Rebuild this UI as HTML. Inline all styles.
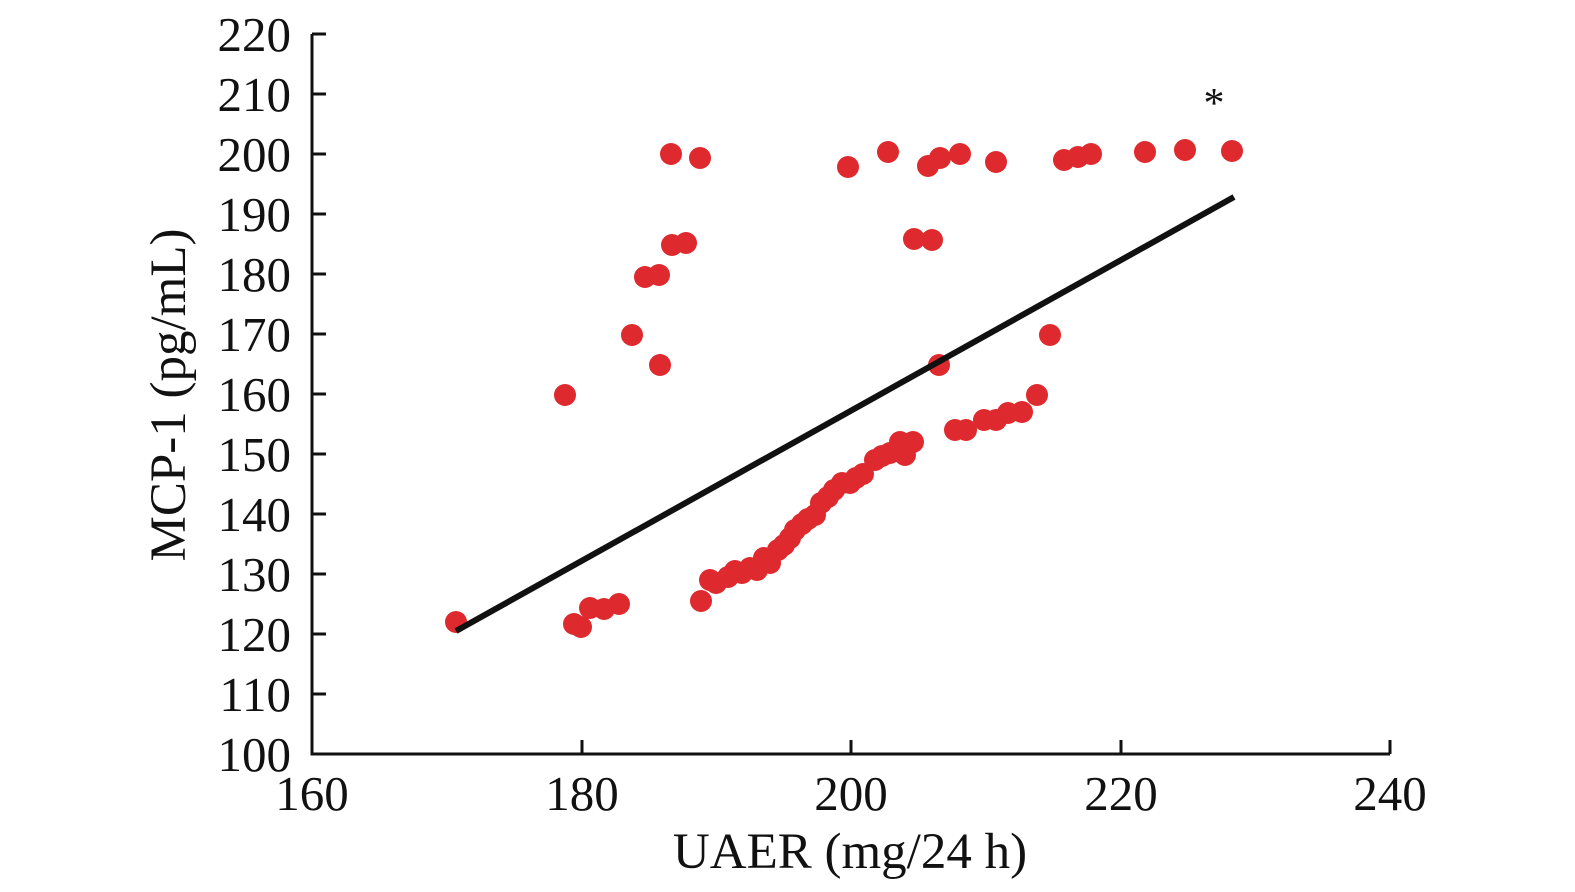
<!DOCTYPE html>
<html><head><style>body{margin:0;background:#fff}svg{display:block}</style></head><body>
<svg width="1575" height="892" xmlns="http://www.w3.org/2000/svg" font-family="Liberation Serif, serif" fill="#111">
<g stroke="#111" stroke-width="3" fill="none">
<path d="M312,34 V754 H1390"/>
<path d="M312,34h14M312,94h14M312,154h14M312,214h14M312,274h14M312,334h14M312,394h14M312,454h14M312,514h14M312,574h14M312,634h14M312,694h14"/>
<path d="M582,754v-14M851,754v-14M1121,754v-14M1390,754v-14"/>
</g>
<g font-size="49" text-anchor="end">
<text x="291" y="51">220</text><text x="291" y="111">210</text><text x="291" y="171">200</text><text x="291" y="231">190</text><text x="291" y="291">180</text><text x="291" y="351">170</text><text x="291" y="411">160</text><text x="291" y="471">150</text><text x="291" y="531">140</text><text x="291" y="591">130</text><text x="291" y="651">120</text><text x="291" y="711">110</text><text x="291" y="771">100</text>
</g>
<g font-size="49" text-anchor="middle">
<text x="312" y="810">160</text><text x="582" y="810">180</text><text x="851" y="810">200</text><text x="1121" y="810">220</text><text x="1390" y="810">240</text>
<text x="850" y="868" font-size="51">UAER (mg/24 h)</text>
<text transform="translate(185,395) rotate(-90)" font-size="51">MCP-1 (pg/mL)</text>
<text x="1214" y="117" font-size="42">*</text>
</g>
<g fill="#de2a2e">
<circle cx="456" cy="622" r="11"/><circle cx="565" cy="395" r="11"/><circle cx="574" cy="624" r="11"/><circle cx="581" cy="627" r="11"/><circle cx="590" cy="608" r="11"/><circle cx="604" cy="609" r="11"/><circle cx="619" cy="604" r="11"/><circle cx="632" cy="335" r="11"/><circle cx="645" cy="277" r="11"/><circle cx="659" cy="275" r="11"/><circle cx="660" cy="365" r="11"/><circle cx="671" cy="154" r="11"/><circle cx="672" cy="245" r="11"/><circle cx="686" cy="243" r="11"/><circle cx="700" cy="158" r="11"/><circle cx="701" cy="601" r="11"/><circle cx="710" cy="580" r="11"/><circle cx="716" cy="583" r="11"/><circle cx="728" cy="577" r="11"/><circle cx="735" cy="571" r="11"/><circle cx="742" cy="573" r="11"/><circle cx="750" cy="568" r="11"/><circle cx="757" cy="570" r="11"/><circle cx="764" cy="558" r="11"/><circle cx="770" cy="563" r="11"/><circle cx="778" cy="550" r="11"/><circle cx="784" cy="545" r="11"/><circle cx="790" cy="538" r="11"/><circle cx="795" cy="530" r="11"/><circle cx="802" cy="524" r="11"/><circle cx="808" cy="519" r="11"/><circle cx="815" cy="515" r="11"/><circle cx="821" cy="503" r="11"/><circle cx="828" cy="497" r="11"/><circle cx="834" cy="490" r="11"/><circle cx="842" cy="483" r="11"/><circle cx="850" cy="483" r="11"/><circle cx="856" cy="478" r="11"/><circle cx="863" cy="474" r="11"/><circle cx="875" cy="460" r="11"/><circle cx="882" cy="456" r="11"/><circle cx="890" cy="453" r="11"/><circle cx="900" cy="442" r="11"/><circle cx="905" cy="455" r="11"/><circle cx="913" cy="442" r="11"/><circle cx="848" cy="167" r="11"/><circle cx="888" cy="152" r="11"/><circle cx="914" cy="239" r="11"/><circle cx="928" cy="166" r="11"/><circle cx="932" cy="240" r="11"/><circle cx="940" cy="158" r="11"/><circle cx="939" cy="365" r="11"/><circle cx="960" cy="154" r="11"/><circle cx="955" cy="430" r="11"/><circle cx="966" cy="430" r="11"/><circle cx="984" cy="420" r="11"/><circle cx="996" cy="162" r="11"/><circle cx="996" cy="420" r="11"/><circle cx="1008" cy="413" r="11"/><circle cx="1022" cy="412" r="11"/><circle cx="1037" cy="395" r="11"/><circle cx="1050" cy="335" r="11"/><circle cx="1064" cy="160" r="11"/><circle cx="1078" cy="157" r="11"/><circle cx="1091" cy="154" r="11"/><circle cx="1145" cy="152" r="11"/><circle cx="1185" cy="150" r="11"/><circle cx="1232" cy="151" r="11"/>
</g>
<line x1="456" y1="631" x2="1234" y2="197" stroke="#111" stroke-width="6"/>
</svg>
</body></html>
